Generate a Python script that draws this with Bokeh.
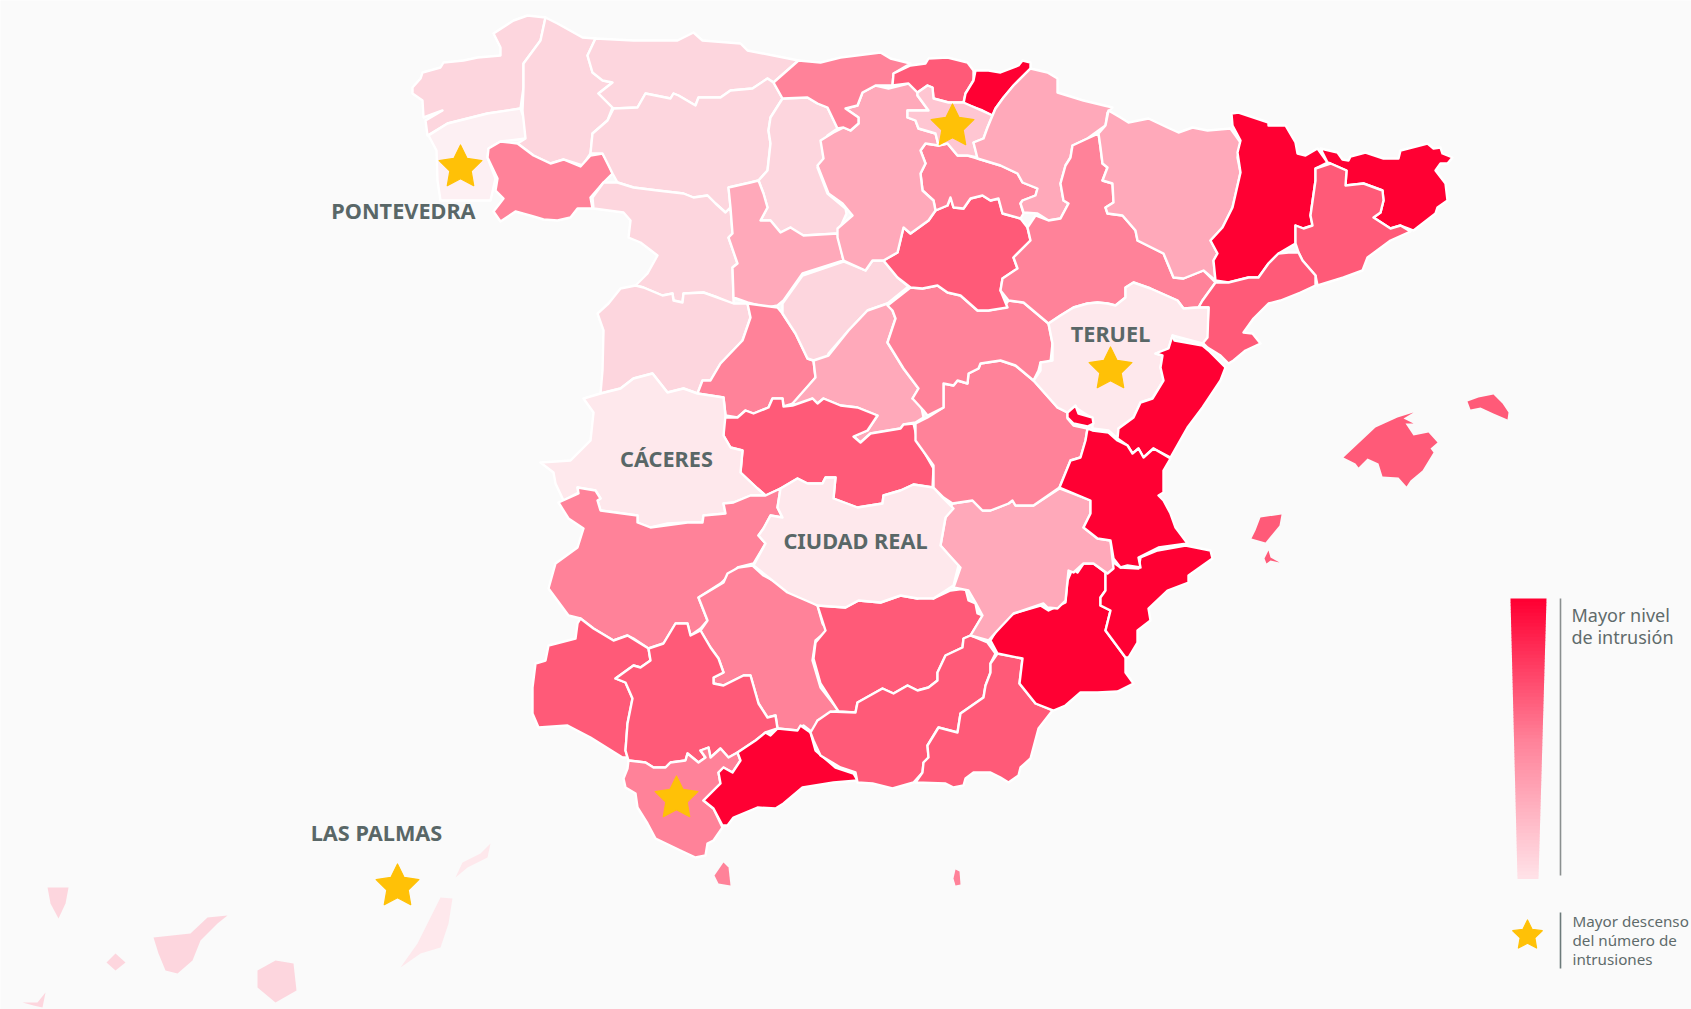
from bokeh.plotting import figure
from bokeh.embed import file_html
from bokeh.resources import INLINE
from bokeh.core.properties import value
from bokeh.models import Range1d
import numpy as np

BG = "#fafafa"
L1, L2, L3, L4, L5, L6 = "#ff0033", "#ff5a78", "#ff8299", "#ffa9ba", "#fdd6de", "#fee8ec"

# province outlines (pixel-space map projection)
coruna = [(545,17),(527,15),(513,20),(493,33),(500,47),(500,55),(477,57),(463,60),(443,62),(440,67),(422,72),(420,78),(412,87),(412,93),(422,100),(423,117),(442,110),(425,120),(427,135),(447,123),(487,113),(520,108),(523,87),(523,63),(540,40)]
pontevedra = [(428,135),(447,123),(487,113),(520,108),(526,125),(525,138),(500,141),(488,148),(487,157),(495,178),(490,200),(440,200),(437,180),(436,150)]
ourense = [(500,141),(517,143),(533,155),(550,163),(563,159),(580,166),(590,155),(602,153),(608,163),(612,173),(603,182),(590,197),(592,208),(577,208),(570,217),(557,220),(543,219),(533,216),(515,211),(500,221),(493,211),(503,198),(495,190),(497,178),(487,157),(488,148)]
lugo = [(545,17),(557,23),(582,37),(595,38),(587,55),(592,72),(603,80),(612,82),(598,93),(612,107),(607,120),(592,133),(590,153),(582,165),(563,159),(550,163),(533,155),(517,143),(525,138),(522,110),(523,87),(523,63),(540,40)]
asturias = [(595,38),(633,40),(677,40),(693,32),(702,40),(740,43),(747,50),(798,60),(773,82),(767,78),(752,88),(730,90),(720,97),(698,97),(695,105),(678,95),(673,93),(670,98),(645,93),(637,107),(613,108),(598,93),(612,82),(602,80),(592,72),(587,55)]
leon = [(613,108),(637,107),(645,93),(670,98),(673,93),(678,95),(695,105),(698,97),(720,97),(730,90),(752,88),(767,78),(773,82),(782,98),(770,117),(768,130),(770,143),(767,170),(758,180),(750,182),(728,187),(730,207),(725,212),(715,203),(707,195),(693,197),(683,193),(657,190),(633,187),(617,182),(612,173),(602,153),(590,153),(592,133),(607,120)]
palencia = [(782,98),(807,97),(817,103),(827,107),(837,128),(827,135),(822,147),(823,160),(817,167),(827,193),(845,208),(846,213),(837,233),(803,235),(792,230),(790,227),(780,232),(770,220),(760,220),(767,207),(763,193),(758,180),(767,170),(770,143),(768,130),(770,117)]
zamora = [(603,182),(617,182),(633,187),(657,190),(683,193),(693,197),(707,195),(715,203),(725,212),(730,207),(732,233),(728,237),(737,263),(732,267),(733,297),(733,305),(717,297),(703,292),(683,293),(682,302),(673,300),(672,293),(662,295),(643,287),(635,285),(647,273),(657,255),(640,242),(628,237),(630,220),(623,212),(593,208),(592,197)]
valladolid = [(728,187),(750,182),(758,180),(763,193),(767,207),(760,220),(770,220),(780,232),(790,227),(803,235),(837,233),(843,260),(802,273),(783,300),(777,305),(767,307),(747,302),(733,297),(732,267),(737,263),(728,237),(732,233),(730,207)]
salamanca = [(620,288),(635,285),(643,287),(662,295),(672,293),(673,300),(682,302),(683,293),(703,292),(717,297),(733,303),(747,303),(750,317),(742,340),(720,363),(710,380),(702,380),(697,393),(683,388),(667,392),(652,373),(633,378),(620,388),(600,393),(602,370),(603,330),(597,313),(608,303)]
avila = [(747,303),(762,305),(777,307),(782,313),(795,333),(807,358),(813,360),(815,377),(793,403),(783,406),(782,398),(772,398),(768,407),(753,413),(745,410),(737,417),(725,415),(723,397),(697,393),(702,380),(710,380),(720,363),(742,340),(750,317)]
segovia = [(782,303),(802,275),(843,261),(865,270),(872,260),(883,260),(897,277),(908,286),(887,303),(867,310),(848,330),(828,353),(827,358),(813,360),(807,358),(795,333),(782,313)]
madrid = [(887,303),(892,310),(895,318),(887,342),(903,368),(918,388),(912,398),(920,402),(923,417),(915,422),(903,424),(900,428),(870,433),(860,442),(853,436),(867,430),(877,415),(857,407),(840,405),(823,398),(817,403),(812,398),(797,405),(792,403),(815,377),(813,360),(828,355),(848,330),(867,310)]
toledo = [(723,417),(737,417),(745,410),(753,413),(768,407),(772,398),(782,398),(783,406),(792,405),(812,398),(817,403),(823,398),(840,405),(857,407),(877,415),(867,430),(853,436),(860,442),(870,433),(900,428),(903,424),(913,423),(917,440),(933,468),(932,487),(913,484),(900,490),(883,495),(882,503),(857,507),(833,498),(835,477),(825,477),(822,483),(807,483),(797,478),(780,488),(765,495),(757,488),(740,472),(742,450),(730,447),(723,435)]
caceres = [(697,393),(723,397),(725,415),(723,435),(730,447),(742,450),(740,472),(757,488),(765,495),(750,495),(733,502),(723,503),(725,513),(703,515),(702,522),(687,522),(667,523),(650,527),(637,522),(637,515),(600,510),(597,500),(600,498),(595,490),(577,487),(578,492),(563,500),(555,483),(553,472),(540,462),(570,460),(590,440),(593,412),(583,398),(600,393),(620,388),(633,378),(652,373),(667,392),(683,388)]
badajoz = [(558,502),(578,493),(577,487),(595,490),(600,498),(597,500),(600,510),(637,515),(637,522),(650,527),(687,522),(702,522),(703,515),(725,513),(723,503),(733,502),(750,495),(765,495),(780,488),(777,507),(782,517),(770,515),(763,528),(758,535),(765,543),(753,563),(737,567),(720,583),(698,597),(707,620),(700,628),(690,635),(687,623),(675,623),(663,643),(648,648),(633,638),(627,635),(613,640),(593,628),(580,618),(568,615),(548,588),(555,563),(577,547),(583,528),(568,518)]
cordoba = [(698,597),(723,582),(727,573),(738,567),(752,565),(763,575),(797,593),(817,605),(822,623),(827,630),(815,640),(812,660),(820,687),(838,710),(832,712),(817,720),(812,732),(803,725),(797,730),(777,728),(775,715),(767,717),(758,703),(750,675),(743,675),(723,685),(713,683),(713,677),(723,672),(718,658),(710,647),(700,630),(707,620)]
huelva = [(580,618),(593,628),(613,640),(627,635),(648,648),(650,660),(640,667),(633,665),(615,678),(625,682),(632,698),(627,723),(625,750),(627,757),(622,757),(590,737),(567,725),(538,727),(532,713),(532,687),(535,663),(545,660),(548,645),(575,638),(577,623)]
sevilla = [(700,630),(690,635),(687,623),(675,623),(663,643),(648,648),(650,660),(640,667),(633,665),(615,678),(625,682),(632,698),(627,723),(625,750),(628,760),(645,762),(653,767),(665,767),(670,762),(685,760),(687,753),(698,762),(705,757),(700,750),(708,747),(710,757),(720,748),(728,757),(737,752),(755,740),(765,732),(777,728),(775,715),(767,717),(758,703),(750,675),(743,675),(723,685),(713,683),(713,677),(723,672),(718,658),(710,647)]
cadiz = [(628,760),(645,762),(653,767),(665,767),(670,762),(685,760),(687,753),(698,762),(705,757),(700,750),(708,747),(710,757),(720,748),(728,757),(737,752),(740,760),(732,772),(723,767),(718,772),(720,783),(703,800),(713,808),(722,827),(713,840),(707,843),(705,855),(695,857),(680,850),(655,838),(647,823),(637,807),(635,793),(625,787),(623,778),(627,768)]
malaga = [(737,752),(755,740),(765,732),(770,735),(777,728),(797,730),(800,725),(810,732),(815,750),(835,767),(853,773),(857,780),(833,782),(802,787),(783,803),(775,808),(757,807),(733,817),(727,825),(722,825),(713,808),(703,800),(720,783),(718,772),(723,767),(732,772),(740,760)]
jaen = [(817,605),(845,607),(858,600),(880,602),(900,595),(917,598),(925,595),(933,598),(950,590),(965,588),(968,600),(975,603),(977,613),(982,615),(970,635),(963,638),(962,647),(945,655),(937,672),(937,680),(928,687),(917,690),(907,685),(893,693),(882,688),(857,702),(855,712),(838,711),(820,683),(813,658),(815,642),(825,630)]
granada = [(810,732),(817,720),(830,711),(855,712),(857,702),(882,688),(893,693),(907,685),(917,690),(928,687),(937,680),(937,672),(945,655),(962,647),(963,638),(970,635),(987,642),(995,653),(990,663),(990,672),(985,685),(983,697),(960,713),(957,732),(938,727),(927,745),(928,757),(923,762),(922,772),(913,782),(892,788),(872,783),(857,782),(855,772),(840,767),(820,755),(813,740)]
almeria = [(997,653),(1022,658),(1019,683),(1035,703),(1052,710),(1038,728),(1030,758),(1020,767),(1018,775),(1008,782),(1000,777),(990,772),(973,772),(965,778),(963,785),(953,787),(945,783),(915,782),(922,772),(923,762),(928,757),(927,745),(938,727),(957,732),(960,713),(983,697),(985,685),(990,672),(990,663)]
murcia = [(990,640),(1000,623),(1013,613),(1040,605),(1048,610),(1065,602),(1067,580),(1072,568),(1077,572),(1083,563),(1093,563),(1105,572),(1105,590),(1100,597),(1100,605),(1110,610),(1105,630),(1125,657),(1125,672),(1133,683),(1117,691),(1097,692),(1080,692),(1065,705),(1053,710),(1035,703),(1019,683),(1022,658),(997,653)]
alicante = [(1113,562),(1120,567),(1138,568),(1140,557),(1157,550),(1185,545),(1210,550),(1212,558),(1188,575),(1188,582),(1167,590),(1148,608),(1150,620),(1137,630),(1137,642),(1128,657),(1125,657),(1105,630),(1110,610),(1100,605),(1100,597),(1105,590),(1105,572)]
albacete = [(952,503),(972,500),(982,510),(990,510),(1008,503),(1012,500),(1015,505),(1033,505),(1059,488),(1090,500),(1090,513),(1083,527),(1097,538),(1110,540),(1113,568),(1107,573),(1093,563),(1083,563),(1073,572),(1068,570),(1065,600),(1057,608),(1047,607),(1043,603),(1013,613),(997,630),(988,640),(970,635),(982,615),(975,602),(968,590),(953,587),(960,567),(950,557),(940,545),(945,517)]
ciudad_real = [(780,488),(797,478),(807,483),(822,483),(825,477),(835,477),(833,498),(857,507),(882,503),(883,495),(900,490),(913,484),(933,487),(942,497),(953,508),(945,517),(940,545),(958,565),(953,585),(933,598),(917,598),(900,595),(880,602),(858,600),(845,607),(817,605),(787,592),(753,565),(765,543),(758,535),(763,528),(770,515),(782,517),(777,507)]
cuenca = [(1033,380),(1057,407),(1067,412),(1067,418),(1073,425),(1087,428),(1085,440),(1080,457),(1070,460),(1059,487),(1033,505),(1015,505),(1012,500),(1008,503),(990,510),(982,510),(972,500),(952,503),(943,497),(933,487),(933,465),(915,440),(915,423),(927,417),(943,407),(943,383),(953,385),(957,380),(967,383),(968,373),(978,368),(980,363),(1000,360),(1015,365)]
guadalajara = [(887,305),(910,287),(922,288),(937,285),(947,292),(960,295),(977,310),(988,310),(1003,307),(1008,300),(1023,302),(1048,323),(1052,343),(1050,362),(1040,362),(1038,370),(1033,380),(1015,365),(1000,360),(980,363),(978,368),(968,373),(967,383),(957,380),(953,385),(943,383),(943,407),(927,415),(923,410),(912,398),(918,388),(903,368),(887,342),(895,318),(892,310)]
soria = [(883,260),(897,252),(903,227),(910,233),(928,220),(935,210),(947,205),(950,197),(953,207),(963,208),(970,198),(982,195),(990,200),(998,198),(1002,213),(1020,218),(1027,227),(1030,240),(1013,257),(1017,268),(1002,278),(1000,290),(1007,307),(988,310),(977,310),(960,295),(947,292),(937,285),(922,288),(910,287),(897,277)]
rioja = [(925,143),(938,145),(947,143),(957,155),(967,155),(977,158),(1000,165),(1017,173),(1022,182),(1037,188),(1035,195),(1022,200),(1020,203),(1023,213),(1020,218),(1002,213),(998,198),(990,200),(982,195),(970,198),(963,208),(953,207),(950,197),(947,205),(935,210),(933,200),(922,190),(920,173),(925,163),(920,150)]
burgos = [(820,140),(833,132),(843,127),(850,130),(858,123),(858,117),(845,108),(857,105),(862,92),(875,85),(888,88),(908,83),(917,92),(917,95),(928,110),(907,110),(907,117),(915,120),(918,128),(935,133),(938,145),(925,143),(920,150),(925,163),(920,173),(922,190),(933,200),(935,210),(928,220),(910,233),(903,227),(897,252),(883,260),(872,260),(865,270),(843,260),(837,237),(837,228),(852,215),(842,203),(828,193),(817,165),(823,158)]
cantabria = [(798,60),(820,62),(840,57),(880,52),(890,58),(910,63),(893,73),(892,85),(875,85),(862,92),(857,105),(845,108),(858,117),(858,123),(850,130),(843,127),(837,128),(827,107),(817,103),(807,97),(782,98),(773,82)]
vizcaya = [(910,65),(925,63),(928,58),(947,57),(967,62),(973,70),(973,80),(965,93),(963,102),(948,102),(933,98),(932,87),(927,85),(917,92),(908,83),(892,85),(893,73)]
guipuzcoa = [(975,70),(988,70),(1000,72),(1018,65),(1022,60),(1030,62),(1030,68),(1013,85),(1003,97),(995,108),(992,115),(982,110),(963,103),(965,93),(973,80)]
alava = [(917,92),(927,85),(932,87),(933,98),(948,102),(963,102),(992,115),(987,127),(983,138),(973,142),(977,157),(967,155),(957,155),(947,143),(938,145),(935,133),(918,128),(915,120),(907,117),(907,110),(928,110),(917,95)]
navarra = [(1030,68),(1047,72),(1057,78),(1057,92),(1083,100),(1112,107),(1107,112),(1105,125),(1098,130),(1087,138),(1072,145),(1070,157),(1065,165),(1060,183),(1063,200),(1068,203),(1060,218),(1048,220),(1037,213),(1023,212),(1020,203),(1022,200),(1035,195),(1037,188),(1022,182),(1017,173),(1000,165),(977,158),(973,142),(983,138),(987,127),(992,115),(995,108),(1003,97),(1013,85)]
zaragoza = [(1098,133),(1100,147),(1102,163),(1107,167),(1102,180),(1112,183),(1113,202),(1105,207),(1107,213),(1122,215),(1135,230),(1137,240),(1163,253),(1173,277),(1183,278),(1203,270),(1215,282),(1202,300),(1198,307),(1183,308),(1177,300),(1150,288),(1133,282),(1125,287),(1125,297),(1115,305),(1107,303),(1097,302),(1087,303),(1073,307),(1060,315),(1048,323),(1023,302),(1008,300),(1000,290),(1002,278),(1017,268),(1013,257),(1030,240),(1027,227),(1035,215),(1048,220),(1060,218),(1068,203),(1063,200),(1060,183),(1065,165),(1070,157),(1072,145),(1087,138)]
huesca = [(1108,110),(1120,117),(1128,122),(1148,118),(1167,127),(1178,132),(1192,127),(1207,130),(1230,128),(1240,142),(1237,157),(1240,172),(1232,207),(1222,227),(1210,240),(1217,253),(1213,260),(1215,280),(1203,270),(1183,278),(1173,277),(1163,253),(1137,240),(1135,230),(1122,215),(1107,213),(1105,207),(1113,202),(1112,183),(1102,180),(1107,167),(1102,163),(1100,147),(1098,133),(1105,125)]
lleida = [(1231,113),(1238,112),(1268,122),(1268,125),(1285,125),(1295,142),(1297,153),(1305,155),(1317,148),(1327,162),(1315,168),(1315,180),(1310,215),(1312,225),(1303,228),(1295,225),(1295,243),(1278,253),(1268,263),(1258,277),(1248,277),(1228,282),(1215,280),(1213,260),(1217,253),(1210,240),(1222,227),(1232,207),(1240,172),(1237,152),(1240,140),(1232,125)]
girona = [(1320,148),(1337,152),(1342,159),(1348,160),(1350,156),(1365,152),(1383,158),(1398,158),(1400,150),(1427,143),(1433,148),(1440,147),(1442,153),(1452,157),(1447,163),(1440,163),(1435,170),(1445,183),(1447,200),(1437,207),(1435,213),(1413,230),(1408,228),(1400,225),(1390,228),(1373,217),(1380,212),(1383,200),(1382,190),(1363,183),(1345,185),(1346,170),(1330,163),(1327,162)]
barcelona = [(1315,168),(1330,163),(1346,170),(1345,185),(1363,183),(1382,190),(1383,200),(1380,212),(1373,217),(1390,228),(1400,225),(1410,231),(1390,240),(1367,257),(1362,270),(1343,277),(1317,285),(1315,275),(1302,260),(1298,252),(1295,243),(1295,225),(1303,228),(1312,225),(1310,215),(1315,180)]
tarragona = [(1215,282),(1228,282),(1248,277),(1258,277),(1268,263),(1278,253),(1288,252),(1298,252),(1302,260),(1315,275),(1315,285),(1300,292),(1280,300),(1268,303),(1253,318),(1243,332),(1252,333),(1260,343),(1245,350),(1233,360),(1228,363),(1220,355),(1207,347),(1202,342),(1207,327),(1208,307),(1198,307),(1202,300)]
teruel = [(1048,323),(1060,315),(1073,307),(1087,303),(1097,302),(1107,303),(1115,305),(1125,297),(1125,287),(1133,282),(1150,288),(1177,300),(1183,308),(1198,307),(1208,307),(1207,337),(1202,343),(1172,335),(1168,348),(1155,353),(1162,355),(1160,367),(1163,380),(1152,398),(1140,402),(1133,417),(1118,428),(1117,438),(1108,430),(1092,428),(1092,418),(1075,407),(1067,412),(1057,407),(1033,380),(1040,370),(1040,362),(1052,360),(1052,343)]
ademuz = [(1075,405),(1078,413),(1092,417),(1093,423),(1087,426),(1073,423),(1067,417),(1067,412)]
castellon = [(1172,335),(1174,340),(1202,345),(1208,350),(1225,367),(1220,380),(1202,407),(1187,427),(1170,457),(1153,448),(1143,457),(1138,448),(1132,453),(1127,445),(1117,438),(1118,428),(1133,417),(1140,402),(1152,398),(1163,380),(1160,367),(1162,355),(1155,353),(1168,348)]
valencia = [(1092,430),(1108,432),(1117,440),(1127,445),(1132,453),(1138,448),(1143,457),(1153,448),(1170,458),(1163,470),(1163,492),(1158,495),(1163,500),(1170,513),(1175,527),(1187,543),(1158,547),(1138,557),(1140,567),(1127,565),(1120,567),(1113,558),(1110,540),(1097,538),(1083,527),(1090,513),(1090,500),(1059,487),(1070,460),(1080,457),(1085,440),(1087,428)]
mallorca = [(1343,457),(1375,427),(1397,417),(1413,412),(1403,418),(1413,423),(1405,423),(1413,435),(1428,432),(1437,442),(1430,448),(1433,452),(1422,470),(1410,480),(1406,486),(1398,477),(1382,476),(1378,463),(1367,458),(1358,467),(1355,463)]
menorca = [(1467,401),(1478,397),(1493,394),(1502,403),(1508,412),(1507,419),(1493,413),(1480,407),(1470,409)]
ibiza = [(1260,517),(1281,514),(1279,525),(1265,542),(1251,538),(1255,530)]
formentera = [(1268,550),(1270,557),(1279,562),(1270,560),(1266,563),(1264,558)]
ceuta = [(723,862),(728,867),(730,885),(718,883),(714,875)]
melilla = [(955,869),(959,871),(960,884),(955,885),(953,878)]
la_palma = [(47,887),(68,887),(65,903),(58,918),(50,903)]
gomera = [(115,953),(125,962),(115,970),(106,962)]
tenerife = [(153,937),(190,933),(207,917),(227,915),(217,923),(200,940),(192,960),(177,973),(165,970),(158,953)]
gran_canaria = [(275,960),(293,963),(296,990),(275,1002),(257,987),(257,970)]
hierro = [(45,992),(42,1007),(33,1005),(22,1002),(37,1002)]
fuerteventura = [(440,897),(452,898),(448,923),(440,947),(420,953),(400,967),(417,943),(430,917)]
lanzarote = [(490,843),(487,857),(467,867),(455,877),(462,862),(480,853)]

province_shapes = [coruna, pontevedra, lugo, ourense, asturias, leon, palencia, zamora, valladolid, salamanca, avila, segovia, madrid, toledo, caceres, badajoz, cordoba, huelva, sevilla, cadiz, malaga, jaen, granada, almeria, murcia, alicante, albacete, ciudad_real, cuenca, guadalajara, soria, rioja, burgos, cantabria, vizcaya, guipuzcoa, alava, navarra, zaragoza, huesca, lleida, girona, barcelona, tarragona, teruel, ademuz, castellon, valencia]
province_fills = [L5, "#fdf0f3", L5, L3, L5, L5, L5, L5, L4, L5, L3, L5, L4, L2, L6, L3, L3, L2, L2, L3, L1, L2, L2, L2, L1, L1, L4, L6, L3, L3, L2, L3, L4, L3, L2, L1, "#ffc6d2", L4, L3, L4, L1, L1, L2, L2, L6, L1, L1, L1]

island_shapes = [mallorca, menorca, ibiza, formentera, ceuta, melilla, la_palma, gomera, tenerife, gran_canaria, hierro, fuerteventura, lanzarote]
island_fills = [L2, L2, L2, L2, L3, L3, L5, L5, L5, L5, L5, L6, L6]

star_x = [460, 952, 1110, 676, 397, 1527]
star_y = [167, 126, 369, 798, 886, 935]
star_r = [22.5, 22.5, 22.5, 22.5, 22.5, 15.5]

label_text = ["PONTEVEDRA", "TERUEL", "CÁCERES", "CIUDAD REAL", "LAS PALMAS"]
label_x = [403, 1110, 666, 855, 376]
label_y = [209.5, 332.5, 457.5, 540, 831.5]

legend_a = ["Mayor nivel", "de intrusión"]
legend_a_y = [614.5, 636.5]
legend_b = ["Mayor descenso", "del número de", "intrusiones"]
legend_b_y = [920, 939, 958]

W, H = 1691, 1009
p = figure(width=W, height=H, x_range=Range1d(0, W), y_range=Range1d(H, 0),
           output_backend="svg", toolbar_location=None, min_border=0,
           background_fill_color=BG, border_fill_color=BG, outline_line_color=None)
p.xaxis.visible = False
p.yaxis.visible = False
p.xgrid.visible = False
p.ygrid.visible = False

def xs(shapes):
    return [[pt[0] for pt in s] for s in shapes]
def ys(shapes):
    return [[pt[1] for pt in s] for s in shapes]

p.patches(xs(province_shapes), ys(province_shapes), fill_color=province_fills,
          line_color="#ffffff", line_width=2.4, line_join="round")
p.patches(xs(island_shapes), ys(island_shapes), fill_color=island_fills, line_color=None)

# colour ramp of the legend
n = 80
top_l, top_r, bot_l, bot_r, top_y, bot_y = 1510, 1546, 1517, 1538, 598, 878
stops = np.array([[255, 0, 51], [255, 130, 153], [255, 228, 233]], dtype=float)
t = np.linspace(0, 1, n + 1)
rx, ry, rc = [], [], []
for i in range(n):
    a, b = t[i], t[i + 1]
    la, lb = top_l + (bot_l - top_l) * a, top_l + (bot_l - top_l) * b
    ra, rb = top_r + (bot_r - top_r) * a, top_r + (bot_r - top_r) * b
    ya, yb = top_y + (bot_y - top_y) * a, top_y + (bot_y - top_y) * b
    rx.append([la, ra, rb, lb])
    ry.append([ya, ya, yb + 0.6, yb + 0.6])
    c = [np.interp(a, [0, .5, 1], stops[:, k]) for k in range(3)]
    rc.append("#%02x%02x%02x" % tuple(int(v) for v in c))
p.patches(rx, ry, fill_color=rc, line_color=None)
p.segment([1560, 1560], [598, 912], [1560, 1560], [875, 968], line_color=["#8a8f8f", "#6c7a7a"], line_width=1.6)

# stars: five-pointed, fuller than Bokeh's star marker
ang = np.arange(10) * np.pi / 5
rad = np.where(np.arange(10) % 2 == 0, 1.0, 0.5)
sx = [list(cx + r * rad * np.sin(ang)) for cx, r in zip(star_x, star_r)]
sy = [list(cy - r * rad * np.cos(ang)) for cy, r in zip(star_y, star_r)]
p.patches(sx, sy, fill_color="#ffc107", line_color="#ffc107", line_width=1.2, line_join="round")

p.text(label_x, label_y, text=label_text, text_font=value("Noto Sans"), text_font_style="bold",
       text_font_size="21.7px", text_color="#596767", text_align="center", text_baseline="alphabetic")
p.text([1571] * 2, legend_a_y, text=legend_a, text_font=value("Noto Sans"), text_font_size="18px",
       text_color="#5f6b6b", text_align="left", text_baseline="alphabetic")
p.text([1572] * 3, legend_b_y, text=legend_b, text_font=value("Noto Sans"), text_font_size="15.2px",
       text_color="#5f6b6b", text_align="left", text_baseline="alphabetic")

open("out.html", "w").write(file_html(p, INLINE))
